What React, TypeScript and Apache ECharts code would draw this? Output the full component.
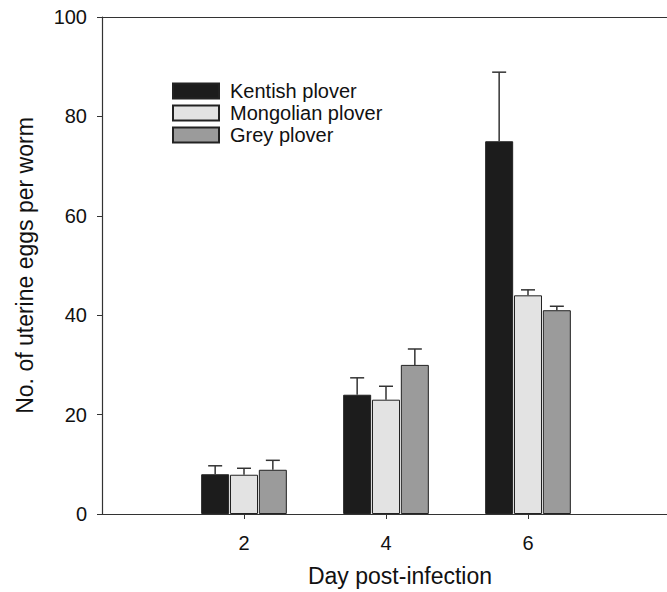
import React, { useEffect, useRef } from "react";
import * as echarts from "echarts";

const categories = ["0", "2", "4", "6", "8"];
const shownDays = ["2", "4", "6"];
const seriesNames = ["Kentish plover", "Mongolian plover", "Grey plover"];
const kentish = [null, 8, 24, 75, null];
const mongolian = [null, 7.9, 23, 44, null];
const grey = [null, 8.9, 30, 41, null];
const kentishErr = [null, 1.7, 3.4, 13.9, null];
const mongolianErr = [null, 1.3, 2.7, 1.1, null];
const greyErr = [null, 1.9, 3.2, 0.8, null];
const yTicks = [0, 20, 40, 60, 80, 100];

const colors = ["#1c1c1c", "#e3e3e3", "#9b9b9b"];
const FONT = "Liberation Sans, Arial, sans-serif";
const BAR_W = 28;
const BAR_GAP = 0.03;

export default function App() {
  const ref = useRef<HTMLDivElement>(null);
  useEffect(() => {
    document.body.style.margin = "0";
    document.body.style.overflow = "hidden";
    if (!ref.current) return;
    const chart = echarts.init(ref.current, undefined, { renderer: "svg" });
    const values = [kentish, mongolian, grey];
    const errs = [kentishErr, mongolianErr, greyErr];

    const barSeries = values.map((v, i) => ({
      name: seriesNames[i],
      type: "bar",
      data: v,
      barWidth: BAR_W,
      barGap: BAR_GAP * 100 + "%",
      itemStyle: { color: colors[i], borderColor: "#222", borderWidth: 1 },
      z: 3,
    }));

    const errSeries = values.map((v, i) => ({
      type: "custom",
      name: "err" + i,
      z: 4,
      data: v
        .map((val, k) => (val == null ? null : [k, val, val + (errs[i][k] as number)]))
        .filter((d) => d !== null),
      renderItem: (params: any, api: any) => {
        const cat = api.value(0);
        const base = api.coord([cat, api.value(1)]);
        const top = api.coord([cat, api.value(2)]);
        const offset = (i - 1) * BAR_W * (1 + BAR_GAP);
        const x = base[0] + offset;
        const style = { stroke: "#333", lineWidth: 1.5 };
        return {
          type: "group",
          children: [
            { type: "line", shape: { x1: x, y1: base[1], x2: x, y2: top[1] }, style },
            { type: "line", shape: { x1: x - 7, y1: top[1], x2: x + 7, y2: top[1] }, style },
          ],
        };
      },
    }));

    chart.setOption({
      animation: false,
      grid: {
        left: 102,
        right: 4,
        top: 17,
        bottom: 75,
      },
      legend: {
        data: seriesNames,
        orient: "vertical",
        left: 172,
        top: 81,
        padding: 0,
        itemWidth: 46,
        itemHeight: 15,
        itemGap: 2,
        icon: "rect",
        textStyle: { fontFamily: FONT, fontSize: 20, color: "#111", padding: [0, 0, 0, 6] },
      },
      xAxis: [
        {
          type: "category",
          data: categories,
          boundaryGap: false,
          name: "Day post-infection",
          nameLocation: "middle",
          nameGap: 50,
          nameTextStyle: { fontFamily: FONT, fontSize: 23, color: "#111", padding: [0, 0, 0, 28] },
          axisLine: { lineStyle: { color: "#333", width: 1.2 } },
          axisTick: {
            show: true,
            length: 5,
            interval: (idx: number, val: string) => shownDays.includes(val),
            lineStyle: { color: "#333" },
          },
          axisLabel: {
            interval: (idx: number, val: string) => shownDays.includes(val),
            formatter: (val: string) => (shownDays.includes(val) ? val : ""),
            fontFamily: FONT,
            fontSize: 20,
            color: "#111",
            margin: 19,
          },
          splitLine: { show: false },
        },
        {
          type: "category",
          data: categories,
          boundaryGap: false,
          position: "top",
          axisLine: { show: true, lineStyle: { color: "#333", width: 1.2 } },
          axisTick: { show: false },
          axisLabel: { show: false },
          splitLine: { show: false },
        },
      ],
      yAxis: {
        type: "value",
        min: 0,
        max: 100,
        interval: 20,
        name: "No. of uterine eggs per worm",
        nameLocation: "middle",
        nameGap: 66,
        nameTextStyle: { fontFamily: FONT, fontSize: 23, color: "#111" },
        axisLine: { show: true, lineStyle: { color: "#333", width: 1.2 } },
        axisTick: { show: true, length: 5, lineStyle: { color: "#333" } },
        axisLabel: {
          fontFamily: FONT,
          fontSize: 20,
          color: "#111",
          margin: 15,
          formatter: (v: number) => (yTicks.includes(v) ? String(v) : ""),
        },
        splitLine: { show: false },
      },
      series: [...barSeries, ...errSeries],
    });
    return () => chart.dispose();
  }, []);
  return <div ref={ref} style={{ width: 674, height: 592 }} />;
}
